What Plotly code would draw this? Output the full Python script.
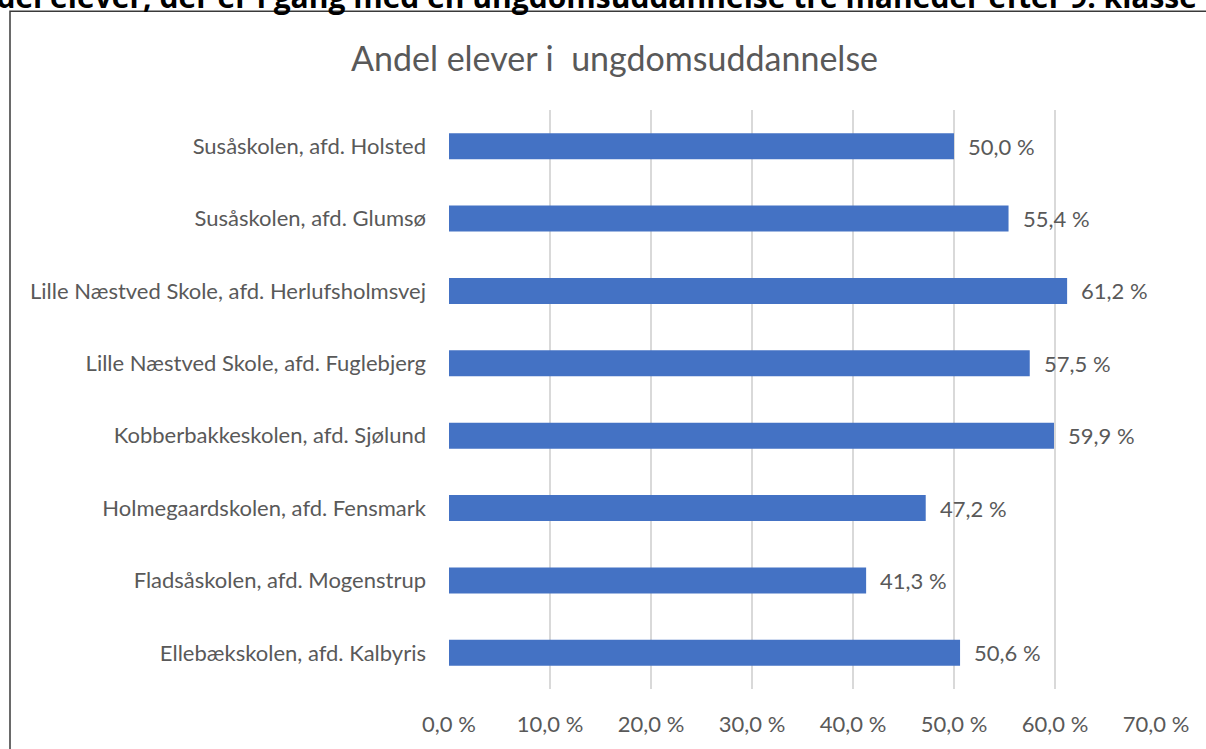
import plotly.graph_objects as go

schools = [
    "Susåskolen, afd. Holsted",
    "Susåskolen, afd. Glumsø",
    "Lille Næstved Skole, afd. Herlufsholmsvej",
    "Lille Næstved Skole, afd. Fuglebjerg",
    "Kobberbakkeskolen, afd. Sjølund",
    "Holmegaardskolen, afd. Fensmark",
    "Fladsåskolen, afd. Mogenstrup",
    "Ellebækskolen, afd. Kalbyris",
]
values = [50.0, 55.4, 61.2, 57.5, 59.9, 47.2, 41.3, 50.6]
tick_vals = [0, 10, 20, 30, 40, 50, 60, 70]
tick_text = ["0,0 %", "10,0 %", "20,0 %", "30,0 %", "40,0 %", "50,0 %", "60,0 %", "70,0 %"]
value_labels = [f"{v:.1f}".replace(".", ",") + " %" for v in values]

title = "Andel elever i\u00a0 ungdomsuddannelse"
heading = "Andel elever, der er i gang med en ungdomsuddannelse tre måneder efter 9. klasse"

GREY = "#595959"
FONT = "Lato"

W, H = 1206, 749
L, R, T, B = 449, 50, 110, 53
pw, ph = W - L - R, H - T - B


def px2paper_x(px):
    return (px - L) / pw


def px2paper_y(py):
    return (H - B - py) / ph


fig = go.Figure()
fig.add_trace(go.Bar(
    x=values, y=schools, orientation="h",
    marker=dict(color="#4472C4", line=dict(width=0)),
    width=0.36, hoverinfo="x+y",
))

annotations = []
for s, v, lab in zip(schools, values, value_labels):
    annotations.append(dict(x=v, y=s, xref="x", yref="y", text=lab, showarrow=False,
                            xanchor="left", yanchor="middle", xshift=12,
                            font=dict(family=FONT, size=22, color=GREY)))

# chart title
annotations.append(dict(x=px2paper_x(614), y=px2paper_y(57), xref="paper", yref="paper",
                        text=title, showarrow=False, xanchor="center", yanchor="middle",
                        font=dict(family=FONT, size=34, color=GREY)))

# document heading above the chart, cropped by the top edge in the reference
annotations.append(dict(x=px2paper_x(1199), y=px2paper_y(-5), xref="paper", yref="paper",
                        text="<b>" + heading + "</b>", showarrow=False,
                        xanchor="right", yanchor="middle",
                        font=dict(family="Open Sans", size=30, color="#000000")))

fig.update_layout(
    width=W, height=H,
    margin=dict(l=L, r=R, t=T, b=B, pad=0),
    paper_bgcolor="white", plot_bgcolor="white",
    showlegend=False,
    xaxis=dict(range=[0, 70], tickvals=tick_vals, ticktext=tick_text,
               showgrid=True, gridcolor="#D9D9D9", gridwidth=1.5,
               zeroline=False, showline=False, ticks="",
               ticklabelstandoff=20,
               tickfont=dict(family=FONT, size=22, color=GREY), fixedrange=True),
    yaxis=dict(autorange="reversed", showgrid=False, zeroline=False, showline=False,
               ticks="", ticklabelstandoff=22,
               tickfont=dict(family=FONT, size=22, color=GREY), fixedrange=True),
    annotations=annotations,
    shapes=[dict(type="rect", xref="paper", yref="paper",
                 x0=px2paper_x(10), x1=px2paper_x(1300),
                 y0=px2paper_y(900), y1=px2paper_y(10),
                 line=dict(color="#3a3a3a", width=1.5), fillcolor="rgba(0,0,0,0)", layer="below")],
)

fig.write_html("out.html", config={"displayModeBar": False},
               post_script="document.body.style.margin='0';document.body.style.overflow='hidden';")
